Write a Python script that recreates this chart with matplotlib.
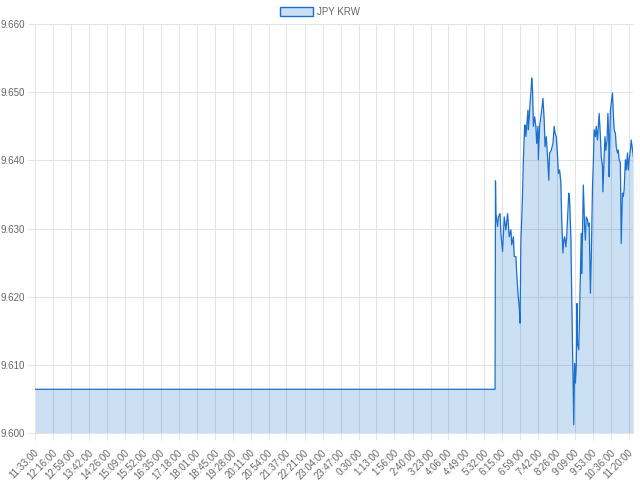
import matplotlib
matplotlib.use("Agg")
import matplotlib.pyplot as plt
from matplotlib.patches import Patch
from matplotlib.transforms import ScaledTranslation

plt.rcParams['font.family'] = ['Liberation Sans', 'DejaVu Sans']

# minutes after 11:33:00, and JPY/KRW rate
minutes = [0, 1105,
           1106, 1107, 1111, 1113, 1117, 1119, 1123, 1127, 1131, 1135, 1139, 1143, 1145, 1149,
           1151, 1155, 1157, 1160, 1163, 1165, 1167, 1169, 1171, 1173, 1176, 1177, 1179, 1181,
           1184, 1185, 1187, 1189, 1192, 1193, 1195, 1197, 1200, 1203, 1205, 1208, 1209,
           1212, 1215, 1218, 1220, 1223, 1225, 1228, 1231, 1234, 1236, 1240, 1244, 1247, 1249,
           1252, 1255, 1257, 1260, 1263, 1265, 1268, 1270, 1272, 1275, 1277, 1279, 1282, 1284,
           1287, 1289, 1292, 1293, 1294, 1296, 1298, 1300, 1302, 1303, 1306, 1308,
           1309, 1312, 1313, 1315, 1317, 1320, 1322, 1324, 1327, 1329, 1331, 1334, 1336, 1339,
           1341, 1343, 1346, 1348, 1351, 1353, 1355, 1358, 1360, 1363, 1364, 1367, 1369, 1371,
           1374, 1376, 1378, 1379, 1382, 1384, 1387, 1389, 1391, 1394, 1396, 1399, 1401, 1403,
           1406, 1408, 1411, 1413, 1415, 1418, 1420, 1423, 1425, 1427, 1430, 1432, 1437]
rate = [9.6064, 9.6064,
        9.6370, 9.6322, 9.6303, 9.6317, 9.6322, 9.6293, 9.6266, 9.6317, 9.6298, 9.6322, 9.6288, 9.6298, 9.6276, 9.6288,
        9.6259, 9.6259, 9.6234, 9.6205, 9.6185, 9.6161, 9.6281, 9.6313, 9.6352, 9.6401, 9.6450, 9.6452, 9.6435, 9.6450,
        9.6474, 9.6445, 9.6462, 9.6484, 9.6508, 9.6521, 9.6504, 9.6450, 9.6464, 9.6450, 9.6425, 9.6450, 9.6401,
        9.6450, 9.6464, 9.6479, 9.6491, 9.6459, 9.6420, 9.6435, 9.6406, 9.6371, 9.6411, 9.6415, 9.6425, 9.6450, 9.6440,
        9.6435, 9.6406, 9.6381, 9.6386, 9.6367, 9.6313, 9.6264, 9.6283, 9.6288, 9.6273, 9.6288, 9.6313, 9.6352, 9.6342,
        9.6288, 9.6205, 9.6092, 9.6053, 9.6012, 9.6102, 9.6073, 9.6097, 9.6190, 9.6132, 9.6122, 9.6171,
        9.6205, 9.6293, 9.6234, 9.6293, 9.6364, 9.6303, 9.6283, 9.6317, 9.6313, 9.6303, 9.6308, 9.6205, 9.6254, 9.6362,
        9.6396, 9.6445, 9.6435, 9.6450, 9.6430, 9.6450, 9.6469, 9.6435, 9.6406, 9.6391, 9.6354, 9.6406, 9.6435, 9.6415,
        9.6430, 9.6469, 9.6435, 9.6376, 9.6474, 9.6484, 9.6499, 9.6469, 9.6445, 9.6440, 9.6420, 9.6411, 9.6415, 9.6401,
        9.6396, 9.6278, 9.6352, 9.6347, 9.6357, 9.6401, 9.6386, 9.6411, 9.6386, 9.6401, 9.6415, 9.6430, 9.6406]

tick_labels = ['11:33:00', '12:16:00', '12:59:00', '13:42:00', '14:26:00', '15:09:00', '15:52:00',
               '16:35:00', '17:18:00', '18:01:00', '18:45:00', '19:28:00', '20:11:00', '20:54:00',
               '21:37:00', '22:21:00', '23:04:00', '23:47:00', '0:30:00', '1:13:00', '1:56:00',
               '2:40:00', '3:23:00', '4:06:00', '4:49:00', '5:32:00', '6:15:00', '6:59:00',
               '7:42:00', '8:26:00', '9:09:00', '9:53:00', '10:36:00', '11:20:00']
y_ticks = [9.600, 9.610, 9.620, 9.630, 9.640, 9.650, 9.660]

def to_min(lab):
    h, m, s = [int(p) for p in lab.split(':')]
    t = h * 60 + m - (11 * 60 + 33)
    if t < 0:
        t += 24 * 60
    return t

tick_pos = [to_min(l) for l in tick_labels]

line_c = '#1a6fd0'
fill_c = (0.0, 0.4, 0.8, 0.2)
grid_c = '#e3e3e3'
text_c = '#666666'

fig = plt.figure(figsize=(6.4, 4.8), dpi=100)
ax = fig.add_axes([35/640, 1-432.9/480, (633.3-35)/640, (432.9-24.2)/480])

ax.fill_between(minutes, rate, 9.6, color=fill_c, linewidth=0, zorder=2)
ax.plot(minutes, rate, color=line_c, linewidth=0.9, zorder=3)

ax.set_xlim(0, 1437)
ax.set_ylim(9.600, 9.660)
ax.set_xticks(tick_pos)
ax.set_xticklabels(tick_labels, rotation=45, ha='right', va='center', rotation_mode='anchor')
ax.set_yticks(y_ticks)
ax.set_yticklabels(['%.3f' % v for v in y_ticks])

ax.set_axisbelow(True)
ax.grid(True, color=grid_c, linewidth=0.75)
for s in ['left', 'bottom', 'top']:
    ax.spines[s].set_color(grid_c)
    ax.spines[s].set_linewidth(0.75)
ax.spines['right'].set_visible(False)
ax.tick_params(axis='both', color=grid_c, width=0.75, length=4.8, labelcolor=text_c, labelsize=7)
ax.tick_params(axis='y', pad=2.2)
ax.tick_params(axis='x', pad=8.2)

shift = ScaledTranslation(2.5/100, 0, fig.dpi_scale_trans)
for lab in ax.get_xticklabels():
    lab.set_transform(lab.get_transform() + shift)

handle = Patch(facecolor=fill_c, edgecolor=line_c, linewidth=1.0)
fig.legend([handle], ['JPY KRW'], loc='center', bbox_to_anchor=(0.5, 1-12/480),
           frameon=False, handlelength=3.4, handleheight=0.97, handletextpad=0.4,
           labelcolor=text_c, fontsize=7)

fig.savefig('out.png')
